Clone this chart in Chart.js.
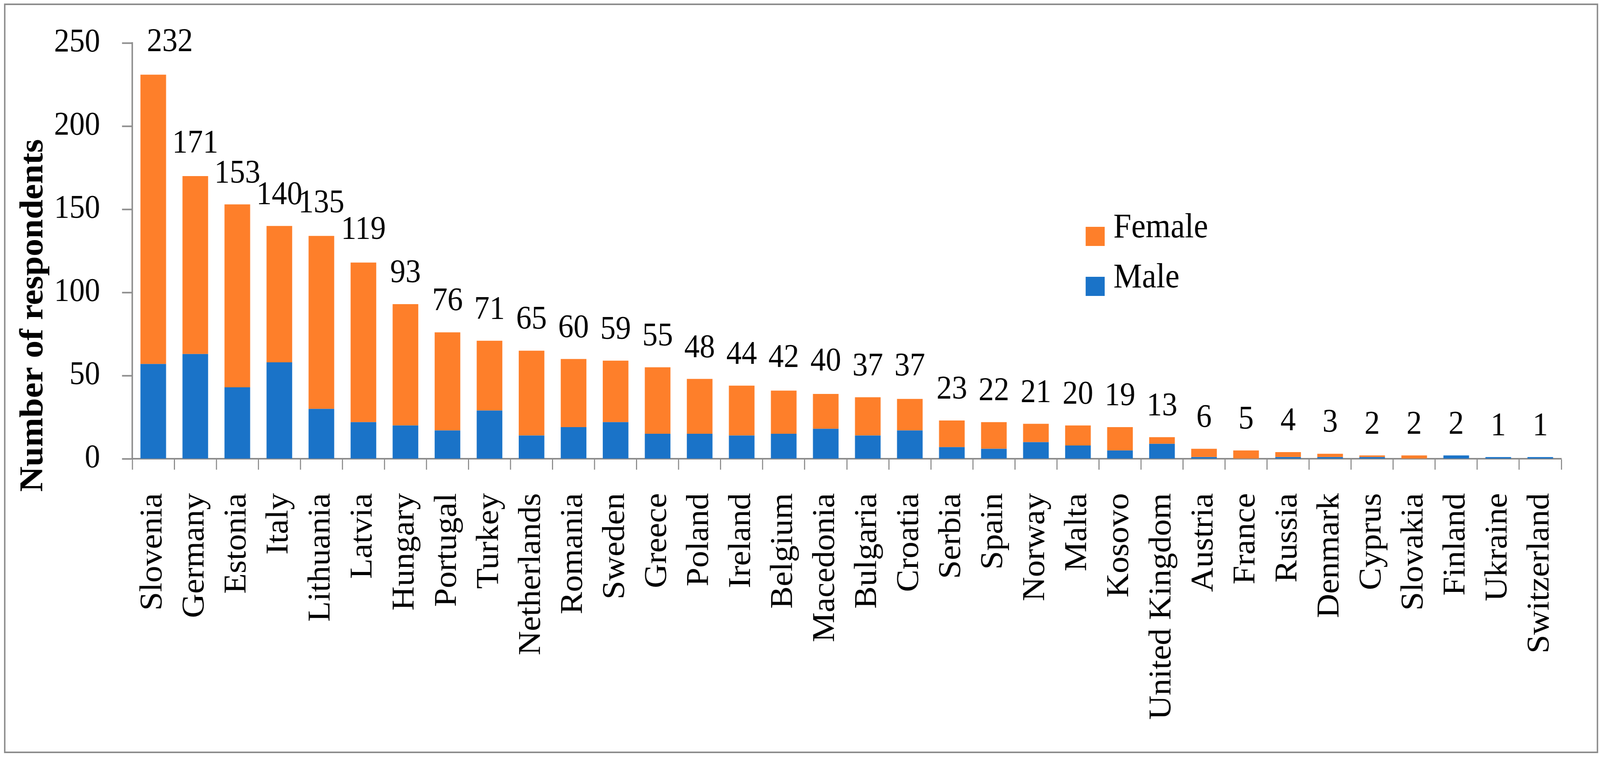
<!DOCTYPE html>
<html>
<head>
<meta charset="utf-8">
<title>Number of respondents by country</title>
<script src="https://cdn.jsdelivr.net/npm/chart.js@4.4.0/dist/chart.umd.min.js"></script>
<style>
  html, body { margin: 0; padding: 0; background: #fff; overflow: hidden; width: 100%; height: 100%; }
  #chartRespondents { display: block; width: 100vw !important; height: 100vh !important; }
</style>
</head>
<body>
<canvas id="chartRespondents" width="4380" height="1962"></canvas>
<script>
const countries = ['Slovenia', 'Germany', 'Estonia', 'Italy', 'Lithuania', 'Latvia', 'Hungary', 'Portugal',
  'Turkey', 'Netherlands', 'Romania', 'Sweden', 'Greece', 'Poland', 'Ireland', 'Belgium', 'Macedonia',
  'Bulgaria', 'Croatia', 'Serbia', 'Spain', 'Norway', 'Malta', 'Kosovo', 'United Kingdom', 'Austria',
  'France', 'Russia', 'Denmark', 'Cyprus', 'Slovakia', 'Finland', 'Ukraine', 'Switzerland'];

const male = [57, 63, 43, 58, 30, 22, 20, 17, 29, 14, 19, 22, 15, 15, 14, 15, 18,
  14, 17, 7, 6, 10, 8, 5, 9, 1, 0, 1, 1, 1, 0, 2, 1, 1];

const female = [174, 107, 110, 82, 104, 96, 73, 59, 42, 51, 41, 37, 40, 33, 30, 26, 21,
  23, 19, 16, 16, 11, 12, 14, 4, 5, 5, 3, 2, 1, 2, 0, 0, 0];

// totals printed above the bars
const totals = [232, 171, 153, 140, 135, 119, 93, 76, 71, 65, 60, 59, 55, 48, 44, 42, 40,
  37, 37, 23, 22, 21, 20, 19, 13, 6, 5, 4, 3, 2, 2, 2, 1, 1];

const yTicks = [0, 50, 100, 150, 200, 250];
const yTitle = 'Number of respondents';

const axisGray = '#8c8c8c';
const serif = '"Liberation Serif", "Times New Roman", serif';

const extras = {
  id: 'extras',
  beforeDraw(chart) {
    const ctx = chart.ctx;
    ctx.save();
    ctx.fillStyle = '#fff';
    ctx.fillRect(0, 0, chart.width, chart.height);
    ctx.strokeStyle = axisGray;
    ctx.lineWidth = 4;
    ctx.strokeRect(13, 11, 4360, 1916);
    ctx.restore();
  },
  afterDatasetsDraw(chart) {
    const ctx = chart.ctx;
    const x = chart.scales.x;
    const y = chart.scales.y;
    ctx.save();
    ctx.fillStyle = '#000';

    // totals above each stack, kept clear of the y axis
    ctx.font = '84px ' + serif;
    ctx.textAlign = 'center';
    ctx.textBaseline = 'bottom';
    totals.forEach((t, i) => {
      const w = ctx.measureText(String(t)).width;
      const cx = Math.max(x.getPixelForValue(i), chart.chartArea.left + 40 + w / 2);
      ctx.fillText(String(t), cx, y.getPixelForValue(t) - 36);
    });

    // y axis title
    ctx.save();
    ctx.translate(116, 808);
    ctx.rotate(-Math.PI / 2);
    ctx.font = 'bold 90px ' + serif;
    ctx.textAlign = 'center';
    ctx.textBaseline = 'alphabetic';
    ctx.fillText(yTitle, 0, 0);
    ctx.restore();

    // legend: Female above Male
    const ds = chart.data.datasets;
    const order = [1, 0];
    ctx.font = '88px ' + serif;
    ctx.textAlign = 'left';
    order.forEach((d, row) => {
      const top = 581 + row * 128;
      ctx.fillStyle = ds[d].backgroundColor;
      ctx.fillRect(2972, top, 52, 49);
      ctx.fillStyle = '#000';
      ctx.fillText(ds[d].label, 3048, top + 48);
    });
    ctx.restore();
  }
};

new Chart(document.getElementById('chartRespondents'), {
  type: 'bar',
  data: {
    labels: countries,
    datasets: [{
      label: 'Male',
      data: male,
      backgroundColor: '#1a73c8',
      barPercentage: 0.61,
      categoryPercentage: 1
    }, {
      label: 'Female',
      data: female,
      backgroundColor: '#fe7f2a',
      barPercentage: 0.61,
      categoryPercentage: 1
    }]
  },
  options: {
    responsive: false,
    devicePixelRatio: 1,
    animation: false,
    layout: { padding: { left: 0, top: 110, right: 21, bottom: 0 } },
    plugins: {
      legend: { display: false },
      tooltip: { enabled: false }
    },
    scales: {
      x: {
        stacked: true,
        afterFit: s => { s.height = 787; },
        grid: {
          offset: true,
          drawOnChartArea: false,
          drawTicks: true,
          tickLength: 28,
          tickWidth: 3,
          tickColor: axisGray
        },
        border: { display: true, color: axisGray, width: 4 },
        ticks: {
          autoSkip: false,
          minRotation: 90,
          maxRotation: 90,
          padding: 60,
          color: '#000',
          font: { family: serif, size: 86 }
        }
      },
      y: {
        stacked: true,
        min: 0,
        max: 250,
        afterFit: s => { s.width = 362; },
        afterBuildTicks: s => { s.ticks = yTicks.map(v => ({ value: v })); },
        grid: {
          drawOnChartArea: false,
          drawTicks: true,
          tickLength: 28,
          tickWidth: 4,
          tickColor: axisGray
        },
        border: { display: true, color: axisGray, width: 4 },
        ticks: {
          padding: 60,
          color: '#000',
          font: { family: serif, size: 84 }
        }
      }
    }
  },
  plugins: [extras]
});
</script>
</body>
</html>
